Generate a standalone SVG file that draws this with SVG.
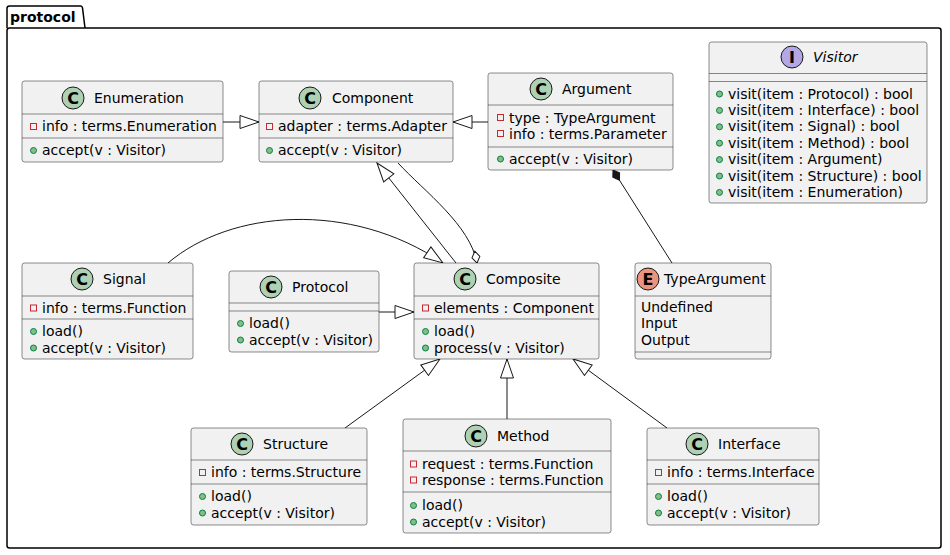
<svg xmlns="http://www.w3.org/2000/svg" width="950" height="555" viewBox="0 0 950 555">
<style>
text{font-family:"DejaVu Sans","Liberation Sans",sans-serif;font-size:14px;fill:#000}
.box{fill:#F1F1F1;stroke:#181818;stroke-width:0.5}
.sep{stroke:#181818;stroke-width:0.5}
.cc{fill:#ADD1B2;stroke:#181818;stroke-width:1}
.ci{fill:#B4A7E5;stroke:#181818;stroke-width:1}
.ce{fill:#EB937F;stroke:#181818;stroke-width:1}
.lt{font-weight:bold;font-size:16px;text-anchor:middle}
.priv{fill:none;stroke:#C82930;stroke-width:1}
.pub{fill:#84BE84;stroke:#038048;stroke-width:1}
.edge{fill:none;stroke:#181818;stroke-width:1}
.it{font-style:italic}
</style>
<defs>
<marker id="tri" viewBox="-21 -8 22 16" refX="0" refY="0" markerWidth="22" markerHeight="16" markerUnits="userSpaceOnUse" orient="auto">
<path d="M0,0 L-19,-6.5 L-19,6.5 Z" fill="#FFFFFF" stroke="#181818" stroke-width="1"/>
</marker>
<marker id="odia" viewBox="-14 -6 15 12" refX="0" refY="0" markerWidth="15" markerHeight="12" markerUnits="userSpaceOnUse" orient="auto">
<path d="M0,0 L-6,-4 L-12,0 L-6,4 Z" fill="#FFFFFF" stroke="#181818" stroke-width="1"/>
</marker>
<marker id="fdia" viewBox="-14 -6 15 12" refX="0" refY="0" markerWidth="15" markerHeight="12" markerUnits="userSpaceOnUse" orient="auto">
<path d="M0,0 L-6,-4 L-12,0 L-6,4 Z" fill="#181818" stroke="#181818" stroke-width="1"/>
</marker>
</defs>
<rect width="950" height="555" fill="#FFFFFF"/>

<g id="package-protocol">
<path d="M7,28 L7,8.5 Q7,6 9.5,6 L81,6 Q82,6 82.5,8 L85,28" fill="none" stroke="#000" stroke-width="1.5"/>
<rect x="7" y="28" width="934" height="520" rx="2.5" fill="none" stroke="#000" stroke-width="1.5"/>
<text x="10" y="22" style="font-weight:bold">protocol</text>
</g>

<g id="connectors">
<path class="edge" d="M223,122 L259,122" marker-end="url(#tri)"/>
<path class="edge" d="M488,122 L453,122" marker-end="url(#tri)"/>
<path class="edge" d="M456,263 L377,163" marker-end="url(#tri)"/>
<path class="edge" d="M398,163 C425,192 470,225 477,263" marker-end="url(#odia)"/>
<path class="edge" d="M168,263 C230,210 350,200 443,263" marker-end="url(#tri)"/>
<path class="edge" d="M379,312 L414,312" marker-end="url(#tri)"/>
<path class="edge" d="M345,428 L440,359" marker-end="url(#tri)"/>
<path class="edge" d="M507,419 L507,359" marker-end="url(#tri)"/>
<path class="edge" d="M667,428 L573,359" marker-end="url(#tri)"/>
<path class="edge" d="M672,263 L613,170" marker-end="url(#fdia)"/>
</g>

<g id="Enumeration">
<rect class="box" x="22" y="81" width="201" height="81" rx="2.5"/>
<line class="sep" x1="22" y1="114" x2="223" y2="114"/>
<line class="sep" x1="22" y1="138" x2="223" y2="138"/>
<circle class="cc" cx="73" cy="98" r="11"/><text class="lt" x="73" y="103.5">C</text>
<text x="94" y="103">Enumeration</text>
<rect class="priv" x="30.5" y="123.5" width="6" height="6"/><text x="42" y="131">info : terms.Enumeration</text>
<circle class="pub" cx="33.5" cy="150.5" r="3"/><text x="42" y="155">accept(v : Visitor)</text>
</g>

<g id="Component">
<rect class="box" x="259" y="81" width="194" height="81" rx="2.5"/>
<line class="sep" x1="259" y1="114" x2="453" y2="114"/>
<line class="sep" x1="259" y1="138" x2="453" y2="138"/>
<circle class="cc" cx="310" cy="98" r="11"/><text class="lt" x="310" y="103.5">C</text>
<text x="332" y="103">Component</text>
<rect class="priv" x="266.5" y="123.5" width="6" height="6"/><text x="278" y="131">adapter : terms.Adapter</text>
<circle class="pub" cx="269.5" cy="150.5" r="3"/><text x="278" y="155">accept(v : Visitor)</text>
</g>

<g id="Argument">
<rect class="box" x="488" y="73" width="185" height="97" rx="2.5"/>
<line class="sep" x1="488" y1="105" x2="673" y2="105"/>
<line class="sep" x1="488" y1="147" x2="673" y2="147"/>
<circle class="cc" cx="541" cy="89" r="11"/><text class="lt" x="541" y="94.5">C</text>
<text x="562" y="94">Argument</text>
<rect class="priv" x="497.5" y="114.5" width="6" height="6"/><text x="509" y="122.5">type : TypeArgument</text>
<rect class="priv" x="497.5" y="130.5" width="6" height="6"/><text x="509" y="138.5">info : terms.Parameter</text>
<circle class="pub" cx="500.5" cy="159" r="3"/><text x="509" y="164">accept(v : Visitor)</text>
</g>

<g id="Visitor">
<rect class="box" x="709" y="42" width="218" height="161" rx="2.5"/>
<line class="sep" x1="709" y1="73.5" x2="927" y2="73.5"/>
<line class="sep" x1="709" y1="81.5" x2="927" y2="81.5"/>
<circle class="ci" cx="792" cy="57" r="11"/><text class="lt" x="792" y="62.5">I</text>
<text class="it" x="813" y="62">Visitor</text>
<circle class="pub" cx="719.5" cy="94" r="3"/><text x="728" y="98.5">visit(item : Protocol) : bool</text>
<circle class="pub" cx="719.5" cy="110.4" r="3"/><text x="728" y="114.9">visit(item : Interface) : bool</text>
<circle class="pub" cx="719.5" cy="126.8" r="3"/><text x="728" y="131.3">visit(item : Signal) : bool</text>
<circle class="pub" cx="719.5" cy="143.2" r="3"/><text x="728" y="147.7">visit(item : Method) : bool</text>
<circle class="pub" cx="719.5" cy="159.6" r="3"/><text x="728" y="164.1">visit(item : Argument)</text>
<circle class="pub" cx="719.5" cy="176" r="3"/><text x="728" y="180.5">visit(item : Structure) : bool</text>
<circle class="pub" cx="719.5" cy="192.4" r="3"/><text x="728" y="196.9">visit(item : Enumeration)</text>
</g>

<g id="Signal">
<rect class="box" x="22" y="263" width="171" height="96" rx="2.5"/>
<line class="sep" x1="22" y1="296" x2="193" y2="296"/>
<line class="sep" x1="22" y1="319" x2="193" y2="319"/>
<circle class="cc" cx="82" cy="279" r="11"/><text class="lt" x="82" y="284.5">C</text>
<text x="103" y="284">Signal</text>
<rect class="priv" x="30.5" y="305" width="6" height="6"/><text x="42" y="312.5">info : terms.Function</text>
<circle class="pub" cx="33.5" cy="331.5" r="3"/><text x="42" y="336">load()</text>
<circle class="pub" cx="33.5" cy="348" r="3"/><text x="42" y="352.5">accept(v : Visitor)</text>
</g>

<g id="Protocol">
<rect class="box" x="229" y="271" width="150" height="81" rx="2.5"/>
<line class="sep" x1="229" y1="303" x2="379" y2="303"/>
<line class="sep" x1="229" y1="311" x2="379" y2="311"/>
<circle class="cc" cx="271" cy="287" r="11"/><text class="lt" x="271" y="292.5">C</text>
<text x="292" y="292">Protocol</text>
<circle class="pub" cx="240.5" cy="323.5" r="3"/><text x="249" y="328">load()</text>
<circle class="pub" cx="240.5" cy="340" r="3"/><text x="249" y="344.5">accept(v : Visitor)</text>
</g>

<g id="Composite">
<rect class="box" x="414" y="263" width="185" height="96" rx="2.5"/>
<line class="sep" x1="414" y1="296" x2="599" y2="296"/>
<line class="sep" x1="414" y1="319" x2="599" y2="319"/>
<circle class="cc" cx="465" cy="279" r="11"/><text class="lt" x="465" y="284.5">C</text>
<text x="486" y="284">Composite</text>
<rect class="priv" x="422.5" y="305" width="6" height="6"/><text x="434" y="312.5">elements : Component</text>
<circle class="pub" cx="425.5" cy="331.5" r="3"/><text x="434" y="336">load()</text>
<circle class="pub" cx="425.5" cy="348" r="3"/><text x="434" y="352.5">process(v : Visitor)</text>
</g>

<g id="TypeArgument">
<rect class="box" x="635" y="263" width="136" height="96" rx="2.5"/>
<line class="sep" x1="635" y1="296" x2="771" y2="296"/>
<line class="sep" x1="635" y1="352" x2="771" y2="352"/>
<circle class="ce" cx="648" cy="279" r="11"/><text class="lt" x="648" y="284.5">E</text>
<text x="664" y="284">TypeArgument</text>
<text x="641" y="311.5">Undefined</text>
<text x="641" y="328">Input</text>
<text x="641" y="344.5">Output</text>
</g>

<g id="Structure">
<rect class="box" x="191" y="428" width="176" height="97" rx="2.5"/>
<line class="sep" x1="191" y1="460" x2="367" y2="460"/>
<line class="sep" x1="191" y1="484" x2="367" y2="484"/>
<circle class="cc" cx="242" cy="444" r="11"/><text class="lt" x="242" y="449.5">C</text>
<text x="263" y="449">Structure</text>
<rect class="priv" x="199.5" y="469.5" width="6" height="6"/><text x="211" y="477">info : terms.Structure</text>
<circle class="pub" cx="202.5" cy="496.5" r="3"/><text x="211" y="501">load()</text>
<circle class="pub" cx="202.5" cy="513" r="3"/><text x="211" y="517.5">accept(v : Visitor)</text>
</g>

<g id="Method">
<rect class="box" x="403" y="419" width="208" height="114" rx="2.5"/>
<line class="sep" x1="403" y1="451" x2="611" y2="451"/>
<line class="sep" x1="403" y1="492" x2="611" y2="492"/>
<circle class="cc" cx="476" cy="436" r="11"/><text class="lt" x="476" y="441.5">C</text>
<text x="497" y="441">Method</text>
<rect class="priv" x="410.5" y="461" width="6" height="6"/><text x="422" y="469">request : terms.Function</text>
<rect class="priv" x="410.5" y="477" width="6" height="6"/><text x="422" y="485">response : terms.Function</text>
<circle class="pub" cx="413.5" cy="505.5" r="3"/><text x="422" y="510">load()</text>
<circle class="pub" cx="413.5" cy="522" r="3"/><text x="422" y="526.5">accept(v : Visitor)</text>
</g>

<g id="Interface">
<rect class="box" x="647" y="428" width="172" height="97" rx="2.5"/>
<line class="sep" x1="647" y1="460" x2="819" y2="460"/>
<line class="sep" x1="647" y1="484" x2="819" y2="484"/>
<circle class="cc" cx="697" cy="444" r="11"/><text class="lt" x="697" y="449.5">C</text>
<text x="718" y="449">Interface</text>
<rect class="priv" x="655.5" y="469.5" width="6" height="6"/><text x="667" y="477">info : terms.Interface</text>
<circle class="pub" cx="658.5" cy="496.5" r="3"/><text x="667" y="501">load()</text>
<circle class="pub" cx="658.5" cy="513" r="3"/><text x="667" y="517.5">accept(v : Visitor)</text>
</g>
</svg>
